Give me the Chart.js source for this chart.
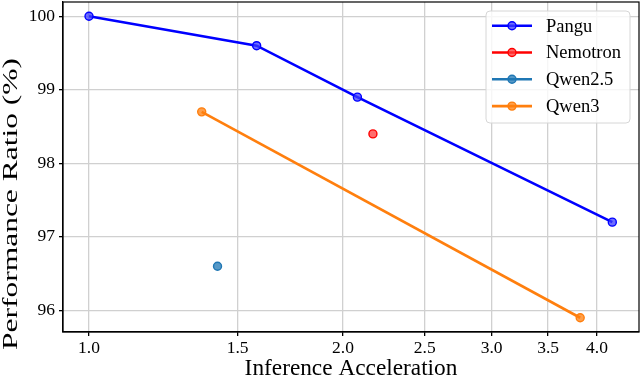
<!DOCTYPE html>
<html>
<head>
<style>
	body { margin: 0; background: #fff; }
	.wrap { width: 640px; height: 381px; position: relative; }
</style>
</head>
<body>
<div class="wrap">
	<canvas id="accChart" width="640" height="381"></canvas>
</div>

<script src="https://cdn.jsdelivr.net/npm/chart.js"></script>

<script>
	var serif = '"Liberation Serif", "DejaVu Serif", serif';

	// data
	var panguX = [1.0, 1.58, 2.08, 4.17];
	var panguY = [100, 99.6, 98.9, 97.2];
	var nemotronX = [2.17];
	var nemotronY = [98.4];
	var qwen25X = [1.42];
	var qwen25Y = [96.6];
	var qwen3X = [1.36, 3.82];
	var qwen3Y = [98.7, 95.9];

	var xTicks = [1.0, 1.5, 2.0, 2.5, 3.0, 3.5, 4.0];
	var yTicks = [96, 97, 98, 99, 100];
	var yTitle = 'Performance Ratio (%)';

	function pts(xs, ys) {
		return xs.map(function (v, i) { return { x: v, y: ys[i] }; });
	}

	function series(label, xs, ys, color, fill) {
		return {
			label: label,
			data: pts(xs, ys),
			borderColor: color,
			backgroundColor: fill,
			borderWidth: 2.6,
			pointRadius: 4,
			pointBorderWidth: 1.4,
			pointBorderColor: color,
			pointBackgroundColor: fill,
			showLine: true,
			tension: 0
		};
	}

	// frame around the plot, y title (tall glyphs as in the figure), legend box
	var framePlugin = {
		id: 'frame',
		afterDraw: function (chart) {
			var ctx = chart.ctx;
			var a = chart.chartArea;
			ctx.save();
			ctx.strokeStyle = '#000';
			ctx.lineWidth = 1.2;
			ctx.strokeRect(a.left, a.top, a.right - a.left, a.bottom - a.top);

			// y axis title
			ctx.save();
			ctx.font = '20px ' + serif;
			ctx.fillStyle = '#000';
			ctx.textAlign = 'center';
			ctx.textBaseline = 'alphabetic';
			var w = ctx.measureText(yTitle).width;
			ctx.translate(16.5, 204);
			ctx.rotate(-Math.PI / 2);
			ctx.scale(292 / w, 1);
			ctx.fillText(yTitle, 0, 0);
			ctx.restore();

			// legend
			var bx = 486, by = 11, bw = 144, bh = 112;
			ctx.beginPath();
			ctx.roundRect(bx, by, bw, bh, 4);
			ctx.fillStyle = 'rgba(255,255,255,0.8)';
			ctx.fill();
			ctx.strokeStyle = '#d6d6d6';
			ctx.lineWidth = 1;
			ctx.stroke();

			ctx.font = '18.5px ' + serif;
			ctx.textBaseline = 'middle';
			chart.data.datasets.forEach(function (ds, i) {
				var y = 25.7 + i * 26.8;
				ctx.strokeStyle = ds.borderColor;
				ctx.lineWidth = 2.6;
				ctx.beginPath();
				ctx.moveTo(492, y);
				ctx.lineTo(532, y);
				ctx.stroke();
				ctx.beginPath();
				ctx.arc(512, y, 4, 0, Math.PI * 2);
				ctx.fillStyle = ds.pointBackgroundColor;
				ctx.fill();
				ctx.lineWidth = 1.4;
				ctx.stroke();
				ctx.fillStyle = '#000';
				ctx.fillText(ds.label, 546, y + 1);
			});
			ctx.restore();
		}
	};

	new Chart(document.getElementById('accChart'), {
		type: 'scatter',
		data: {
			datasets: [
				series('Pangu', panguX, panguY, '#0000ff', 'rgba(60,60,255,0.75)'),
				series('Nemotron', nemotronX, nemotronY, '#ff0000', 'rgba(255,60,60,0.75)'),
				series('Qwen2.5', qwen25X, qwen25Y, '#1f77b4', 'rgba(31,119,180,0.75)'),
				series('Qwen3', qwen3X, qwen3Y, '#ff7f0e', 'rgba(255,127,14,0.75)')
			]
		},
		plugins: [framePlugin],
		options: {
			responsive: false,
			animation: false,
			layout: { autoPadding: false, padding: { top: 2, right: 1, left: 0, bottom: 0 } },
			plugins: {
				legend: { display: false },
				tooltip: { enabled: false }
			},
			scales: {
				x: {
					type: 'logarithmic',
					min: 0.9315,
					max: 4.485,
					afterBuildTicks: function (s) {
						s.ticks = xTicks.map(function (v) { return { value: v }; });
					},
					afterFit: function (s) {
						s.height = 49;
						s.paddingLeft = 0;
						s.paddingRight = 0;
					},
					grid: {
						color: '#d0d0d0',
						lineWidth: 1.3,
						tickColor: '#000',
						tickLength: 4
					},
					border: { color: '#000', width: 1.2 },
					ticks: {
						color: '#000',
						font: { family: serif, size: 17.5 },
						padding: 2,
						maxRotation: 0,
						autoSkip: false,
						callback: function (v) { return Number(v).toFixed(1); }
					},
					title: {
						display: true,
						text: 'Inference Acceleration',
						color: '#000',
						font: { family: serif, size: 23.3 },
						padding: { top: 0, bottom: -2 }
					}
				},
				y: {
					min: 95.706,
					max: 100.194,
					afterBuildTicks: function (s) {
						s.ticks = yTicks.map(function (v) { return { value: v }; });
					},
					afterFit: function (s) {
						s.width = 63;
						s.paddingTop = 0;
						s.paddingBottom = 0;
					},
					grid: {
						color: '#d0d0d0',
						lineWidth: 1.3,
						tickColor: '#000',
						tickLength: 4
					},
					border: { color: '#000', width: 1.2 },
					ticks: {
						color: '#000',
						font: { family: serif, size: 17.5 },
						padding: 4
					}
				}
			}
		}
	});
</script>
</body>
</html>
